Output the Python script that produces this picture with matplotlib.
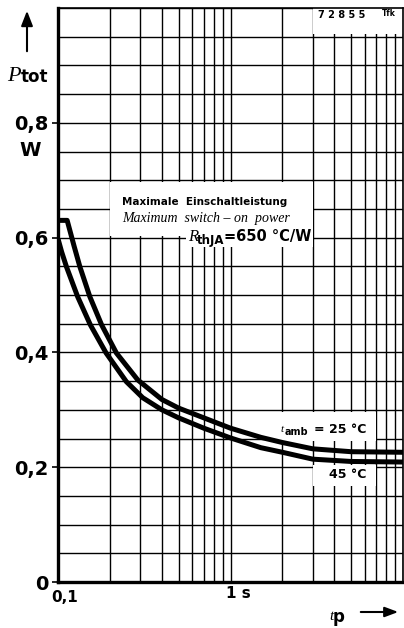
import matplotlib
matplotlib.use("Agg")
import matplotlib.pyplot as plt
from matplotlib.patches import Rectangle, FancyArrowPatch
import numpy as np

# ---- data ----
t_25 = [0.1, 0.113, 0.124, 0.134, 0.153, 0.179, 0.218, 0.29, 0.4, 0.5, 0.7, 1.0, 1.5, 2.0, 3.0, 5.0, 10.0]
p_25 = [0.63, 0.63, 0.585, 0.549, 0.497, 0.448, 0.399, 0.352, 0.318, 0.303, 0.286, 0.268, 0.252, 0.243, 0.232, 0.227, 0.226]
t_45 = [0.1, 0.105, 0.112, 0.13, 0.154, 0.19, 0.249, 0.31, 0.4, 0.5, 0.7, 1.0, 1.5, 2.0, 3.0, 5.0, 10.0]
p_45 = [0.598, 0.575, 0.549, 0.497, 0.448, 0.399, 0.349, 0.321, 0.300, 0.286, 0.268, 0.251, 0.234, 0.226, 0.214, 0.210, 0.209]
ytick_vals = [0, 0.2, 0.4, 0.6, 0.8]
ytick_labels = ["0", "0,2", "0,4", "0,6", "0,8"]

W, H = 404, 628
fig = plt.figure(figsize=(W / 100, H / 100), dpi=100)
L, R, T, B = 58, 403, 8, 582
ax = fig.add_axes([L / W, 1 - B / H, (R - L) / W, (B - T) / H])

def px(x, y):
    return (x / W, 1 - y / H)

ax.set_xscale("log")
ax.set_xlim(0.1, 10)
ax.set_ylim(0, 1.0)

# grid
xminor = [k * 0.1 for k in range(1, 10)] + [k * 1.0 for k in range(1, 11)]
for xv in xminor:
    ax.axvline(xv, color="black", lw=1.0, zorder=1)
for yv in np.arange(0, 1.0001, 0.05):
    ax.axhline(yv, color="black", lw=1.0, zorder=1)

# white label areas
white_boxes = [
    (0.2, 0.603, 3.0, 0.697),
    (0.55, 0.584, 3.0, 0.61),
    (3.0, 0.955, 10.0, 1.0),
    (1.7, 0.246, 7.0, 0.297),
    (3.0, 0.168, 7.0, 0.203),
]
for x0, y0, x1, y1 in white_boxes:
    ax.add_patch(Rectangle((x0, y0), x1 - x0, y1 - y0, facecolor="white",
                           edgecolor="none", zorder=2))

ax.plot(t_25, p_25, color="black", lw=3.6, zorder=3, solid_capstyle="butt")
ax.plot(t_45, p_45, color="black", lw=3.6, zorder=3, solid_capstyle="butt")

for s in ["left", "bottom"]:
    ax.spines[s].set_linewidth(2.4)
for s in ["top", "right"]:
    ax.spines[s].set_linewidth(1.2)

ax.set_xticks([])
ax.set_xticks([], minor=True)
ax.set_yticks(ytick_vals)
ax.set_yticklabels(ytick_labels, fontsize=14, fontweight="bold", family="DejaVu Sans")
ax.tick_params(axis="y", direction="out", length=4, width=1.2, pad=3)
ax.tick_params(axis="y", which="minor", length=0)

bold = dict(family="DejaVu Sans", fontweight="bold", color="black")
serif_it = dict(family="Liberation Serif", style="italic", color="black")

# y axis label
fig.add_artist(FancyArrowPatch(px(27, 54), px(27, 8), transform=fig.transFigure,
                               arrowstyle="-|>,head_length=9,head_width=3.5",
                               color="black", lw=1.5))
fig.text(*px(7, 81), "P", fontsize=16, va="baseline", ha="left", **serif_it)
fig.text(*px(21, 82), "tot", fontsize=12, va="baseline", ha="left", **bold)
fig.text(*px(30, 150), "W", fontsize=14, va="center", ha="center", **bold)

# x labels
fig.text(*px(65, 597), "0,1", fontsize=11, va="center", ha="center", **bold)
fig.text(*px(238, 594), "1 s", fontsize=11, va="center", ha="center", **bold)
fig.text(*px(329, 620), "t", fontsize=11, va="baseline", ha="left", **serif_it)
fig.text(*px(333, 622), "p", fontsize=12, va="baseline", ha="left", **bold)
fig.add_artist(FancyArrowPatch(px(358, 612), px(401, 612), transform=fig.transFigure,
                               arrowstyle="-|>,head_length=8,head_width=3",
                               color="black", lw=1.5))

# annotations
fig.text(*px(122, 205), "Maximale  Einschaltleistung", fontsize=7.5, va="baseline", ha="left", **bold)
fig.text(*px(122, 222), "Maximum  switch \u2013 on  power", fontsize=10, va="baseline", ha="left", **serif_it)
fig.text(*px(188, 241), "R", fontsize=12, va="baseline", ha="left", **serif_it)
fig.text(*px(197, 244), "thJA", fontsize=8.5, va="baseline", ha="left", **bold)
fig.text(*px(224, 241), "=650 \u00b0C/W", fontsize=10.5, va="baseline", ha="left", **bold)

fig.text(*px(318, 18), "7 2 8 5 5", fontsize=7, va="baseline", ha="left", **bold)
fig.text(*px(382, 16), "Tfk", fontsize=5.5, va="baseline", ha="left", **bold)

fig.text(*px(281, 432), "t", fontsize=8, va="baseline", ha="left", **serif_it)
fig.text(*px(285, 435), "amb", fontsize=7, va="baseline", ha="left", **bold)
fig.text(*px(366, 433), "= 25 \u00b0C", fontsize=9, va="baseline", ha="right", **bold)
fig.text(*px(366, 478), "45 \u00b0C", fontsize=9, va="baseline", ha="right", **bold)

fig.savefig("out.png", dpi=100, facecolor="white")
